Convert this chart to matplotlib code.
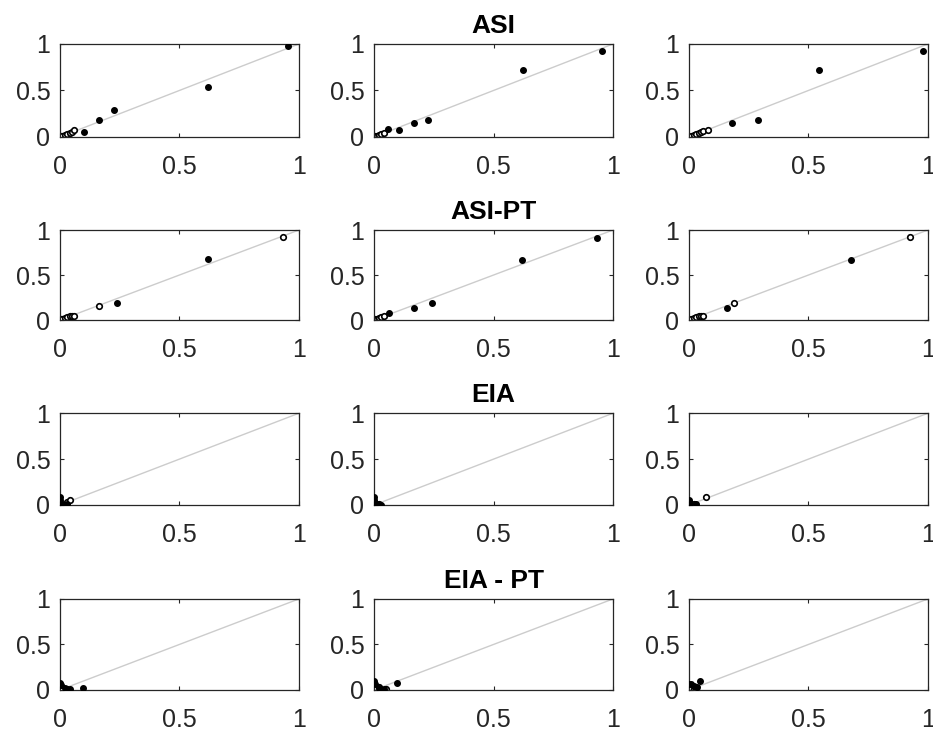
import matplotlib.pyplot as plt
import numpy as np

plt.rcParams['font.family'] = ['Liberation Sans', 'DejaVu Sans']

titles = ['ASI', 'ASI-PT', 'EIA', 'EIA - PT']
ticks = [0, 0.5, 1]
tick_labels = ['0', '0.5', '1']

# filled black dots, one list per column (rows: ASI, ASI-PT, EIA, EIA-PT)
asi_x = [[0.955, 0.62, 0.226, 0.165, 0.10], [0.955, 0.625, 0.225, 0.167, 0.104, 0.06], [0.98, 0.544, 0.29, 0.18]]
asi_y = [[0.98, 0.54, 0.29, 0.18, 0.05], [0.925, 0.72, 0.18, 0.15, 0.07, 0.085], [0.925, 0.72, 0.18, 0.15]]
asipt_x = [[0.62, 0.238], [0.933, 0.62, 0.242, 0.167, 0.063], [0.677, 0.16]]
asipt_y = [[0.68, 0.19], [0.91, 0.67, 0.19, 0.13, 0.08], [0.67, 0.13]]
eia_x = [[0.0, 0.0, 0.01, 0.03], [0.0, 0.0, 0.01, 0.03], [0.0, 0.005, 0.03]]
eia_y = [[0.09, 0.05, 0.01, 0.01], [0.09, 0.05, 0.01, 0.0], [0.05, 0.02, 0.01]]
eiapt_x = [[0.0, 0.005, 0.02, 0.04, 0.097], [0.0, 0.005, 0.02, 0.04, 0.097], [0.0, 0.01, 0.02, 0.035, 0.046]]
eiapt_y = [[0.08, 0.05, 0.02, 0.01, 0.02], [0.1, 0.06, 0.02, 0.01, 0.077], [0.06, 0.07, 0.04, 0.03, 0.1]]

# open circles (mostly the cluster near the origin)
asi_ox = [[0.0, 0.005, 0.01, 0.02, 0.03, 0.04, 0.05, 0.06], [0.0, 0.005, 0.01, 0.02, 0.03, 0.04], [0.0, 0.01, 0.02, 0.03, 0.04, 0.05, 0.06, 0.08]]
asi_oy = [[0.0, 0.01, 0.01, 0.02, 0.03, 0.04, 0.05, 0.07], [0.0, 0.01, 0.01, 0.02, 0.03, 0.04], [0.0, 0.01, 0.02, 0.03, 0.04, 0.05, 0.06, 0.07]]
asipt_ox = [[0.0, 0.005, 0.01, 0.02, 0.03, 0.04, 0.05, 0.06, 0.163, 0.933], [0.0, 0.005, 0.01, 0.02, 0.03, 0.04], [0.0, 0.01, 0.02, 0.03, 0.04, 0.05, 0.06, 0.19, 0.925]]
asipt_oy = [[0.0, 0.01, 0.01, 0.02, 0.03, 0.04, 0.04, 0.05, 0.155, 0.92], [0.0, 0.01, 0.01, 0.02, 0.03, 0.04], [0.0, 0.01, 0.02, 0.03, 0.04, 0.05, 0.05, 0.19, 0.92]]
eia_ox = [[0.01, 0.03, 0.04], [0.01, 0.02], [0.02, 0.07]]
eia_oy = [[0.0, 0.03, 0.05], [0.0, 0.01], [0.01, 0.085]]
eiapt_ox = [[0.01, 0.03], [0.02, 0.05], [0.02, 0.03]]
eiapt_oy = [[0.0, 0.01], [0.03, 0.01], [0.01, 0.01]]

filled = [(asi_x, asi_y), (asipt_x, asipt_y), (eia_x, eia_y), (eiapt_x, eiapt_y)]
opened = [(asi_ox, asi_oy), (asipt_ox, asipt_oy), (eia_ox, eia_oy), (eiapt_ox, eiapt_oy)]

fig = plt.figure(figsize=(9.33, 7.34), dpi=100)

lefts = [0.0643, 0.401, 0.7385]
bottoms = [0.8134, 0.564, 0.312, 0.060]
heights = [0.1267, 0.1226, 0.125, 0.124]
width = 0.256

for r in range(4):
    for c in range(3):
        ax = fig.add_axes([lefts[c], bottoms[r], width, heights[r]])
        ax.plot([0, 1], [0, 1], color='#cccccc', lw=1, zorder=1)
        ox, oy = opened[r][0][c], opened[r][1][c]
        ax.plot(ox, oy, 'o', ms=4, mfc='white', mec='black', mew=1.2, zorder=2)
        fx, fy = filled[r][0][c], filled[r][1][c]
        ax.plot(fx, fy, 'o', ms=4, mfc='black', mec='black', zorder=3)
        ax.set_xlim(0, 1)
        ax.set_ylim(0, 1)
        ax.set_xticks(ticks)
        ax.set_xticklabels(tick_labels)
        ax.set_yticks(ticks)
        ax.set_yticklabels(tick_labels)
        ax.tick_params(direction='in', length=3, width=0.8, colors='#262626',
                       labelsize=18, top=True, right=True)
        ax.tick_params(axis='x', pad=13)
        ax.tick_params(axis='y', pad=7)
        for s in ax.spines.values():
            s.set_color('#262626')
            s.set_linewidth(0.9)
        if c == 1:
            ax.set_title(titles[r], fontsize=19, fontweight='bold', pad=8)

fig.savefig('out.png', dpi=100)
